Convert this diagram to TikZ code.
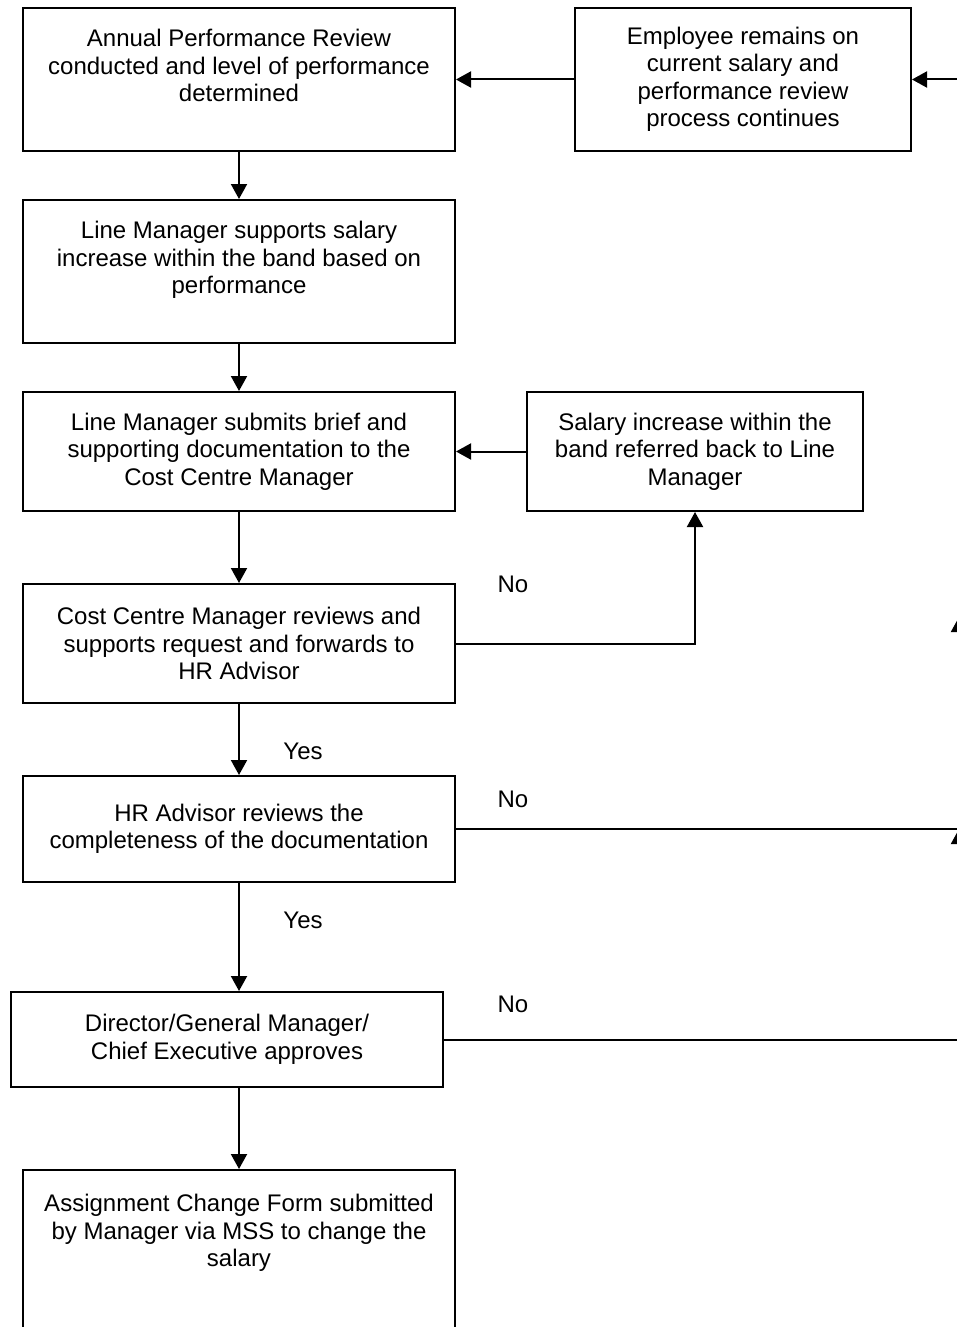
\documentclass[tikz,border=0pt]{standalone}
\usepackage{fontspec}
\setmainfont{Liberation Sans}
\usetikzlibrary{arrows.meta, positioning}

\begin{document}
\begin{tikzpicture}[
    x=0.5pt, y=-0.5pt,
    every node/.style={font=\fontsize{12}{13.75}\selectfont},
    stage/.style={
        rectangle,
        draw,
        line width=1pt,
        align=center,
        inner sep=0pt,
        minimum width=216pt
    },
    sidebox/.style={stage, minimum width=168pt},
    answer/.style={inner sep=0pt},
    arrow/.style={-{Triangle[length=7.5pt,width=8pt]}, line width=1pt}
]
    \path[use as bounding box] (0,0) rectangle (957,1327);
    \clip (0,0) rectangle (957,1327);

    % Main column
    \node[stage, minimum height=71.5pt] (review) at (239, 79.5) {
        Annual Performance Review\\
        conducted and level of performance\\
        determined\\ \mbox{}
    };
    \node[stage, minimum height=71.5pt] (support) at (239, 271.5) {
        Line Manager supports salary\\
        increase within the band based on\\
        performance\\ \mbox{}
    };
    \node[stage, minimum height=59.5pt] (submit) at (239, 451.5) {
        Line Manager submits brief and\\
        supporting documentation to the\\
        Cost Centre Manager
    };
    \node[stage, minimum height=59.5pt] (costcentre) at (239, 643.5) {
        Cost Centre Manager reviews and\\
        supports request and forwards to\\
        HR Advisor
    };
    \node[stage, minimum height=53pt] (hradvisor) at (239, 829) {
        HR Advisor reviews the\\
        completeness of the documentation
    };
    \node[stage, minimum height=47.5pt] (director) at (227, 1039.5) {
        Director/General Manager/\\
        Chief Executive approves
    };
    \node[stage, minimum height=88pt] (changeform) at (239, 1258) {
        Assignment Change Form submitted\\
        by Manager via MSS to change the\\
        salary\\ \mbox{}\\ \mbox{}
    };

    % Side boxes
    \node[sidebox, minimum height=71.5pt] (remains) at (743, 79.5) {
        Employee remains on\\
        current salary and\\
        performance review\\
        process continues
    };
    \node[sidebox, minimum height=59.5pt] (referred) at (695, 451.5) {
        Salary increase within the\\
        band referred back to Line\\
        Manager
    };

    % Return line on the right edge
    \coordinate (hrright) at (959, 829);
    \coordinate (midright) at (959, 617);

    % Connectors
    \draw[arrow] (review) -- (support);
    \draw[arrow] (support) -- (submit);
    \draw[arrow] (submit) -- (costcentre);
    \draw[arrow] (costcentre) -- (hradvisor);
    \draw[arrow] (hradvisor.south) -- (hradvisor.south |- director.north);
    \draw[arrow] (changeform.north |- director.south) -- (changeform.north);
    \draw[arrow] (remains) -- (review);
    \draw[arrow] (referred) -- (submit);
    \draw[arrow] (costcentre.east) -| (referred.south);
    \draw[line width=1pt] (hradvisor.east) -- (hrright);
    \draw[arrow] (director.east) -- (director.east -| hrright) -- (hrright);
    \draw[arrow] (hrright) -- (midright);
    \draw[arrow] (midright) -- (midright |- remains.east) -- (remains.east);

    % Answers
    \node[answer] (no1) at (513, 584) {No};
    \node[answer] (yes1) at (303, 751) {Yes};
    \node[answer] (no2) at (513, 799) {No};
    \node[answer] (yes2) at (303, 920) {Yes};
    \node[answer] (no3) at (513, 1004) {No};
\end{tikzpicture}
\end{document}
